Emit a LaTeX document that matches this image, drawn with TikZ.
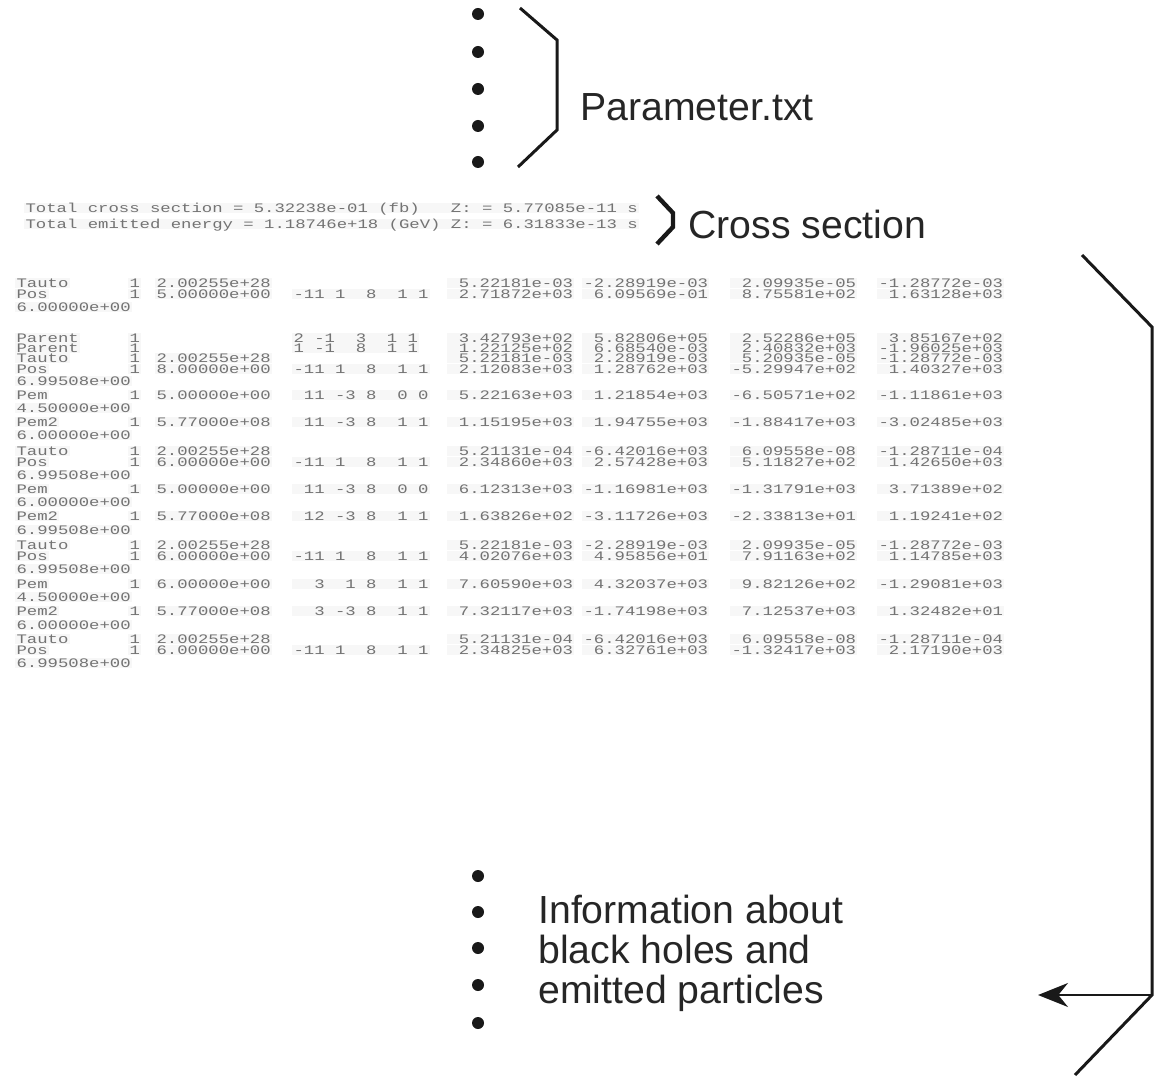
\documentclass[tikz,border=0pt]{standalone}
\usepackage{fontspec}
\setmainfont{Liberation Sans}
\newfontfamily\tabfont{Liberation Mono}[FakeStretch=1.33]
\usetikzlibrary{arrows.meta}
\newcommand\trow[9]{%
  \node[tab] (#1l) at (15,#2) {#3};
  \node[tab] (#1o) at (128,#2) {1};
  \if\relax\detokenize{#4}\relax\else\node[tab] (#1v) at (155,#2) {#4};\fi
  \if\relax\detokenize{#5}\relax\else\node[tab] (#1i) at (292,#2) {#5};\fi
  \node[tab] (#1a) at (447,#2) {#6};
  \node[tab] (#1b) at (582,#2) {#7};
  \node[tab] (#1c) at (730,#2) {#8};
  \node[tab] (#1d) at (877,#2) {#9};}
\newcommand\tnum[3]{\node[tab] (#1) at (15,#2) {#3};}
\begin{document}
\begin{tikzpicture}[x=0.5pt,y=-0.5pt,
  tab/.style={anchor=west,inner xsep=0.6pt,inner ysep=0.2pt,text height=4.3pt,text depth=0pt,
    fill=black!3,text=black!55,font=\tabfont\fontsize{6.5}{7}\selectfont},
  lab/.style={anchor=west,inner sep=0pt,text=black!85,font=\fontsize{19.6}{20}\selectfont},
  dot/.style={circle,fill=black!90,inner sep=0pt,minimum size=6pt},
  brk/.style={line width=1.5pt,draw=black!90,line join=miter}]
\useasboundingbox (0,0) rectangle (1156,1080);

% top dots and Parameter bracket
\foreach \y [count=\i] in {14,52,89,126,162} \node[dot] (dt\i) at (478,\y) {};
\draw[brk] (520,8) -- (557,40) -- (557,130) -- (518,167);
\node[lab] (param) at (580,107) {Parameter.txt};

% cross section lines
\node[tab] (cs1) at (24,208) {Total cross section = 5.32238e-01 (fb)~~~Z: = 5.77085e-11 s};
\node[tab] (cs2) at (24,224) {Total emitted energy = 1.18746e+18 (GeV)~Z: = 6.31833e-13 s};
\draw[line width=2.2pt,black!90,line join=miter] (657,196) -- (673,213) -- (673,227) -- (657,244);
\node[lab] (cross) at (688,224) {Cross section};

% table
\trow{ra}{283}{Tauto}{2.00255e+28}{}{~5.22181e-03}{-2.28919e-03}{~2.09935e-05}{-1.28772e-03}
\trow{rb}{294}{Pos}{5.00000e+00}{-11~1~~8~~1~1}{~2.71872e+03}{~6.09569e-01}{~8.75581e+02}{~1.63128e+03}
\tnum{rc}{307}{6.00000e+00}
\trow{rd}{338}{Parent}{}{2~-1~~3~~1~1}{~3.42793e+02}{~5.82806e+05}{~2.52286e+05}{~3.85167e+02}
\trow{re}{348}{Parent}{}{1~-1~~8~~1~1}{~1.22125e+02}{~6.68540e-03}{~2.40832e+03}{-1.96025e+03}
\trow{rf}{358}{Tauto}{2.00255e+28}{}{~5.22181e-03}{~2.28919e-03}{~5.20935e-05}{-1.28772e-03}
\trow{rg}{369}{Pos}{8.00000e+00}{-11~1~~8~~1~1}{~2.12083e+03}{~1.28762e+03}{-5.29947e+02}{~1.40327e+03}
\tnum{rh}{381}{6.99508e+00}
\trow{ri}{395}{Pem}{5.00000e+00}{~11~-3~8~~0~0}{~5.22163e+03}{~1.21854e+03}{-6.50571e+02}{-1.11861e+03}
\tnum{rj}{408}{4.50000e+00}
\trow{rk}{422}{Pem2}{5.77000e+08}{~11~-3~8~~1~1}{~1.15195e+03}{~1.94755e+03}{-1.88417e+03}{-3.02485e+03}
\tnum{rl}{435}{6.00000e+00}
\trow{rm}{451}{Tauto}{2.00255e+28}{}{~5.21131e-04}{-6.42016e+03}{~6.09558e-08}{-1.28711e-04}
\trow{rn}{462}{Pos}{6.00000e+00}{-11~1~~8~~1~1}{~2.34860e+03}{~2.57428e+03}{~5.11827e+02}{~1.42650e+03}
\tnum{ro}{475}{6.99508e+00}
\trow{rp}{489}{Pem}{5.00000e+00}{~11~-3~8~~0~0}{~6.12313e+03}{-1.16981e+03}{-1.31791e+03}{~3.71389e+02}
\tnum{rq}{502}{6.00000e+00}
\trow{rr}{516}{Pem2}{5.77000e+08}{~12~-3~8~~1~1}{~1.63826e+02}{-3.11726e+03}{-2.33813e+01}{~1.19241e+02}
\tnum{rs}{530}{6.99508e+00}
\trow{rt}{545}{Tauto}{2.00255e+28}{}{~5.22181e-03}{-2.28919e-03}{~2.09935e-05}{-1.28772e-03}
\trow{ru}{556}{Pos}{6.00000e+00}{-11~1~~8~~1~1}{~4.02076e+03}{~4.95856e+01}{~7.91163e+02}{~1.14785e+03}
\tnum{rv}{569}{6.99508e+00}
\trow{rw}{584}{Pem}{6.00000e+00}{~~3~~1~8~~1~1}{~7.60590e+03}{~4.32037e+03}{~9.82126e+02}{-1.29081e+03}
\tnum{rx}{597}{4.50000e+00}
\trow{ry}{611}{Pem2}{5.77000e+08}{~~3~-3~8~~1~1}{~7.32117e+03}{-1.74198e+03}{~7.12537e+03}{~1.32482e+01}
\tnum{rz}{625}{6.00000e+00}
\trow{sa}{639}{Tauto}{2.00255e+28}{}{~5.21131e-04}{-6.42016e+03}{~6.09558e-08}{-1.28711e-04}
\trow{sb}{650}{Pos}{6.00000e+00}{-11~1~~8~~1~1}{~2.34825e+03}{~6.32761e+03}{-1.32417e+03}{~2.17190e+03}
\tnum{sc}{663}{6.99508e+00}

% big bracket and arrow
\coordinate (bt) at (1082,255);
\coordinate (bu) at (1152,327);
\coordinate (bc) at (1152,995);
\coordinate (bb) at (1075,1075);
\coordinate (at) at (1038,995);
\draw[brk] (bt) -- (bu) -- (bc) -- (bb);
\draw[line width=1.2pt,black!90,-{Stealth[length=15pt,width=12pt]}] (bc) -- (at);

% bottom dots and info text
\foreach \y [count=\i] in {876,912,948,985,1023} \node[dot] (db\i) at (478,\y) {};
\node[lab,align=left,anchor=north west] (info) at (538,895) {Information about\\black holes and\\emitted particles};
\end{tikzpicture}
\end{document}
